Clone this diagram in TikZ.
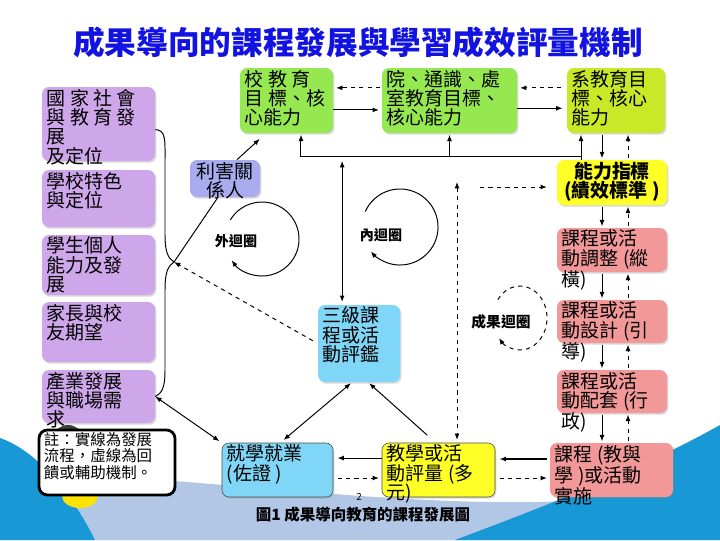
\documentclass[tikz,border=0pt]{standalone}
\usepackage{fontspec}
\setmainfont{Noto Sans CJK TC}
\usetikzlibrary{positioning,arrows.meta,shadows}

\definecolor{purplebox}{RGB}{206,166,234}
\definecolor{greenbox}{RGB}{150,232,80}
\definecolor{limebox}{RGB}{200,232,40}
\definecolor{stakebox}{RGB}{168,172,238}
\definecolor{yellowbox}{RGB}{255,255,40}
\definecolor{pinkbox}{RGB}{242,152,152}
\definecolor{cyanbox}{RGB}{128,214,246}
\definecolor{titleblue}{RGB}{18,18,225}
\definecolor{swoosh}{RGB}{24,152,212}
\definecolor{paleblue}{RGB}{178,198,230}

% one pixel of the slide
\newdimen\px \px=0.025cm
% box text: width, height (in px), lines -- set from the top, may run out below
\newcommand{\boxtxt}[3]{\parbox[c][\dimexpr#2\px-2.8pt\relax][t]{\dimexpr#1\px-7pt\relax}{\raggedright#3}}

\begin{document}
\begin{tikzpicture}[x=0.025cm, y=-0.025cm, >={Latex[length=4.5pt,width=3.5pt]},
  box/.style={rounded corners=5pt, inner xsep=3.5pt, inner ysep=1.4pt,
    font=\fontsize{13.5}{13.8}\selectfont,
    drop shadow={shadow xshift=1pt, shadow yshift=-1.2pt, opacity=.3}},
  looplabel/.style={font=\bfseries\fontsize{10}{10}\selectfont},
  conn/.style={line width=0.7pt}]
  \useasboundingbox (0,0) rectangle (720,540);

  % slide background
  \fill[white] (0,0) rectangle (720,540);
  \fill[paleblue] (0,470) .. controls (200,478) and (380,505) .. (540,502) .. controls (620,500) and (680,480) .. (720,460) -- (720,540) -- (0,540) -- cycle;
  \fill[swoosh] (0,438) .. controls (35,450) and (70,490) .. (95,540) -- (0,540) -- cycle;
  \fill[swoosh] (455,540) .. controls (540,508) and (640,470) .. (720,425) -- (720,540) -- cycle;
  \fill[black!75] (68,437) ellipse[x radius=0.35cm, y radius=0.3cm];
  \fill[yellow!85!orange] (80,496) ellipse[x radius=0.45cm, y radius=0.3cm];

  \node[font=\bfseries\fontsize{22.5}{24}\selectfont, text=titleblue] (title) at (358,42) {成果導向的課程發展與學習成效評量機制};

  % left column: outside context
  \node[box, fill=purplebox] (nat) at (98.5,124) {\boxtxt{113}{74}{國 家 社 會\\與 教 育 發\\展\\及定位}};
  \node[box, fill=purplebox] (sch) at (98.5,198.5) {\boxtxt{113}{57}{學校特色\\與定位}};
  \node[box, fill=purplebox] (stu) at (98.5,265) {\boxtxt{113}{60}{學生個人\\能力及發\\展}};
  \node[box, fill=purplebox] (par) at (98.5,332) {\boxtxt{113}{60}{家長與校\\友期望}};
  \node[box, fill=purplebox] (indus) at (98.5,396.5) {\boxtxt{113}{53}{產業發展\\與職場需\\求}};
  \node[draw, line width=2pt, fill=white, rounded corners=6pt, inner xsep=3.5pt, inner ysep=1.4pt,
    font=\fontsize{11}{12}\selectfont] (note) at (107,462.5) {\boxtxt{136}{65}{註：實線為發展\\流程，虛線為回\\饋或輔助機制。}};

  % top row: goals
  \node[box, fill=greenbox] (schg) at (286.5,100.5) {\boxtxt{93}{65}{校 教 育\\目 標、核\\心能力}};
  \node[box, fill=greenbox] (col) at (449.5,100.5) {\boxtxt{135}{65}{院、通識、處\\室教育目標、\\核心能力}};
  \node[box, fill=limebox] (dep) at (616,100.5) {\boxtxt{98}{65}{系教育目\\標、核心\\能力}};
  \node[box, fill=stakebox] (stake) at (225,178.5) {\boxtxt{70}{37}{\centering 利害關\\係人}};
  \node[box, fill=yellowbox] (ind) at (612,182.5) {\boxtxt{110}{45}{\centering\bfseries 能力指標\\(績效標準 )}};

  % right column: curriculum
  \node[box, fill=pinkbox] (adj) at (612,250) {\boxtxt{110}{44}{課程或活\\動調整 (縱\\橫)}};
  \node[box, fill=pinkbox] (des) at (612,321.5) {\boxtxt{110}{43}{課程或活\\動設計 (引\\導)}};
  \node[box, fill=pinkbox] (supp) at (612,391.5) {\boxtxt{110}{43}{課程或活\\動配套 (行\\政)}};
  \node[box, fill=pinkbox] (impl) at (611.5,470) {\boxtxt{123}{54}{課程 (教與\\學 )或活動\\實施}};

  % evaluation
  \node[box, fill=cyanbox] (eval3) at (359,343.5) {\boxtxt{82}{77}{三級課\\程或活\\動評鑑}};
  \node[box, fill=cyanbox, draw=black!70] (job) at (277.5,470) {\boxtxt{111}{54}{就學就業\\(佐證 )}};
  \node[box, fill=yellowbox, draw=black!70] (assess) at (438.5,470) {\boxtxt{113}{54}{教學或活\\動評量 (多\\元)}};

  \node[font=\bfseries\fontsize{11}{11}\selectfont] (cap) at (363,515) {圖1\ 成果導向教育的課程發展圖};
  \node[font=\fontsize{7}{7}\selectfont] (pgno) at (359,497) {2};

  % loops (angles on the page, clockwise)
  \coordinate (outc) at (262,239);
  \coordinate (innc) at (400,227);
  \coordinate (resc) at (520,318);
  \draw[conn,->] (outc) ++(211:37) arc[start angle=149, end angle=-145, radius=0.925cm];
  \draw[conn,->] (innc) ++(204:38) arc[start angle=156, end angle=-140, radius=0.95cm];
  \draw[conn,dashed,->] (resc) ++(215:27 and 32) arc[start angle=145, end angle=-141, x radius=0.675cm, y radius=0.8cm];
  \node[looplabel] (outl) at (236,241) {外迴圈};
  \node[looplabel] (innl) at (381,235) {內迴圈};
  \node[looplabel, font=\bfseries\fontsize{10.5}{10.5}\selectfont] (resl) at (501,322) {成果迴圈};

  % brace joining the left boxes
  \coordinate (tip) at (174,262);
  \draw[conn] ([yshift=-4pt]nat.east) .. controls (166,130) and (165,140) .. (165,160) -- (165,235)
    .. controls (165,252) and (168,258) .. (tip) .. controls (168,266) and (165,272) .. (165,290) -- (165,370)
    .. controls (165,388) and (162,393) .. (indus.east);
  \draw[conn] (tip) -- ([xshift=-5pt]stake.south);
  \draw[conn,->] ([xshift=8.5pt]stake.north) -- ([xshift=-19pt,yshift=-4pt]schg.south);
  \draw[conn,dashed,->,shorten <=4pt] (eval3.west) -- (tip);

  % goals row
  \draw[conn,dashed,->,shorten <=1pt,shorten >=2pt] ([yshift=9pt]col.west) -- ([yshift=9pt]schg.east);
  \draw[conn,->,shorten >=2pt] ([yshift=-6.7pt]schg.east) -- ([yshift=-6.7pt]col.west);
  \draw[conn,dashed,->,shorten <=4pt,shorten >=2pt] ([yshift=9pt]dep.west) -- ([yshift=9pt]col.east);
  \draw[conn,->,shorten >=3pt] ([yshift=-5.5pt]col.east) -- ([yshift=-5.5pt]dep.west);

  \coordinate (hub) at (581,156);
  \draw[conn,->,shorten >=1pt] (hub |- ind.north) -- (hub) -| ([xshift=10.3pt]schg.south);
  \draw[conn,->,shorten >=1pt] (hub) -- (hub |- dep.south);
  \draw[conn,->,shorten >=1pt] (hub -| col.south) -- (col.south);
  \coordinate (evtop) at ([xshift=-12pt]eval3.north);
  \draw[conn,<->,shorten <=3.5pt,shorten >=2pt] (evtop |- hub) -- (evtop);
  \coordinate (fbin) at (480,187);
  \draw[conn,dashed,->,shorten >=7pt] (fbin) -- (fbin -| ind.west);
  \coordinate (dtop) at (457,182);
  \draw[conn,dashed,<->,shorten >=2pt] (dtop) -- (dtop |- assess.north);

  % right column chain
  \coordinate (cs) at (602,0);
  \coordinate (cd) at (628,0);
  \foreach \a/\b in {dep/ind, ind/adj, adj/des, des/supp, supp/impl} {
    \draw[conn,->,shorten <=1pt,shorten >=1pt] (cs |- \a.south) -- (cs |- \b.north);
    \draw[conn,dashed,->,shorten <=1pt,shorten >=1pt] (cd |- \b.north) -- (cd |- \a.south);
  }

  % bottom row
  \draw[line width=1.1pt,->,shorten <=2pt,shorten >=3pt] ([yshift=7.8pt]impl.west) -- ([yshift=7.8pt]assess.east);
  \draw[conn,dashed,->,shorten <=3pt,shorten >=2pt] ([yshift=-5.7pt]assess.east) -- ([yshift=-5.7pt]impl.west);
  \draw[conn,->,shorten >=3pt] ([yshift=8.5pt]assess.west) -- ([yshift=8.5pt]job.east);
  \draw[conn,dashed,->,shorten <=3pt,shorten >=2pt] ([yshift=-5.7pt]job.east) -- ([yshift=-5.7pt]assess.west);
  \draw[conn,->,shorten <=8pt,shorten >=1pt] ([xshift=-2pt]assess.north) -- ([xshift=6.5pt]eval3.south);
  \draw[conn,<->,shorten <=1pt,shorten >=3pt] ([xshift=-5pt]eval3.south) -- ([xshift=2pt]job.north);
  \draw[conn,<->,shorten >=2pt] (indus.east) -- (job.north west);
\end{tikzpicture}
\end{document}
